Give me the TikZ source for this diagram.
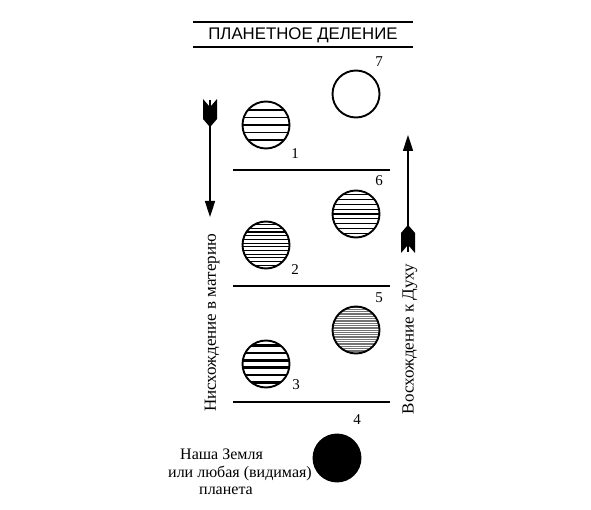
\documentclass[tikz,border=0pt]{standalone}
\usepackage{fontspec}
\setmainfont{Liberation Serif}
\newfontfamily\titlefont{Liberation Sans}
\usetikzlibrary{arrows.meta}
\tikzset{
  planet/.style={circle, draw=black, line width=1.9pt, minimum size=47pt, inner sep=0pt},
  hatch/.style n args={3}{path picture={
    \foreach \k in {#1}
      \draw[line width=#3] ([yshift=\k*#2 pt]path picture bounding box.west) -- ([yshift=\k*#2 pt]path picture bounding box.east);}},
  whitehatch/.style n args={3}{path picture={
    \foreach \k in {#1}
      \draw[white, line width=#3] ([yshift=\k*#2 pt]path picture bounding box.west) -- ([yshift=\k*#2 pt]path picture bounding box.east);}},
  num/.style={font=\fontsize{15}{15}\selectfont, inner sep=0pt},
  rule/.style={line width=1.3pt},
  shaft/.style={line width=1.6pt, -{Triangle[length=16pt,width=10pt]}},
  feather/.style={fill=black},
  vtext/.style={rotate=90, font=\fontsize{17}{17}\selectfont, inner sep=0pt},
}
\begin{document}
\begin{tikzpicture}[x=1pt,y=-1pt]
\path[use as bounding box, fill=white] (0,0) rectangle (591,510);
% title
\coordinate (t1a) at (193,22); \coordinate (t1b) at (413,22);
\coordinate (t2a) at (193,47); \coordinate (t2b) at (413,47);
\draw[rule] (t1a) -- (t1b);
\draw[rule] (t2a) -- (t2b);
\node[font=\titlefont\fontsize{16.8}{16.8}\selectfont, inner sep=0pt] (title) at (303,35) {ПЛАНЕТНОЕ ДЕЛЕНИЕ};
% separating lines
\coordinate (l1a) at (233,170); \coordinate (l1b) at (390,170);
\coordinate (l2a) at (233,286); \coordinate (l2b) at (390,286);
\coordinate (l3a) at (233,402); \coordinate (l3b) at (390,402);
\draw[rule] (l1a) -- (l1b);
\draw[rule] (l2a) -- (l2b);
\draw[rule] (l3a) -- (l3b);
% planets
\node[planet] (p7) at (356,94) {};
\node[planet, hatch={-2,...,2}{7.5}{1.4pt}] (p1) at (266,125) {};
\node[planet, hatch={-4,...,4}{4.8}{1.2pt}] (p6) at (356,214) {};
\node[planet, hatch={-5.5,-4.5,...,5.5}{3.7}{1.1pt}] (p2) at (266,245) {};
\node[planet, fill=black!55, whitehatch={-9.5,-8.5,...,9.5}{2.3}{0.7pt}] (p5) at (356,330) {};
\node[planet, hatch={-2.5,-1.5,...,2.5}{7.3}{2.6pt}] (p3) at (266,364) {};
\node[planet, fill=black] (p4) at (337,458) {};
% numbers
\node[num] (n7) at (379,62) {7};
\node[num] (n1) at (295,154) {1};
\node[num] (n6) at (379,181) {6};
\node[num] (n2) at (295,270) {2};
\node[num] (n5) at (379,298) {5};
\node[num] (n3) at (296,385) {3};
\node[num] (n4) at (357,420) {4};
% earth label
\node[anchor=west, align=left, inner sep=0pt, font=\fontsize{16}{17.5}\selectfont] (earth) at (168,472)
  {\hspace*{12pt}Наша Земля\\или любая (видимая)\\\hspace*{31pt}планета};
% left arrow (descent)
\coordinate (la1) at (210,100); \coordinate (la2) at (210,217);
\draw[shaft] (la1) -- (la2);
\fill[feather] (203,99) -- (209,106) -- (209,126) -- (203,119) -- cycle;
\fill[feather] (217,99) -- (211,106) -- (211,126) -- (217,119) -- cycle;
\node[vtext] (down) at (212,323) {Нисхождение в материю};
% right arrow (ascent)
\coordinate (ra1) at (408,252); \coordinate (ra2) at (408,135);
\draw[shaft] (ra1) -- (ra2);
\fill[feather] (401,233) -- (407,226) -- (407,246) -- (401,253) -- cycle;
\fill[feather] (415,233) -- (409,226) -- (409,246) -- (415,253) -- cycle;
\node[vtext] (up) at (410,339) {Восхождение к Духу};
\end{tikzpicture}
\end{document}
